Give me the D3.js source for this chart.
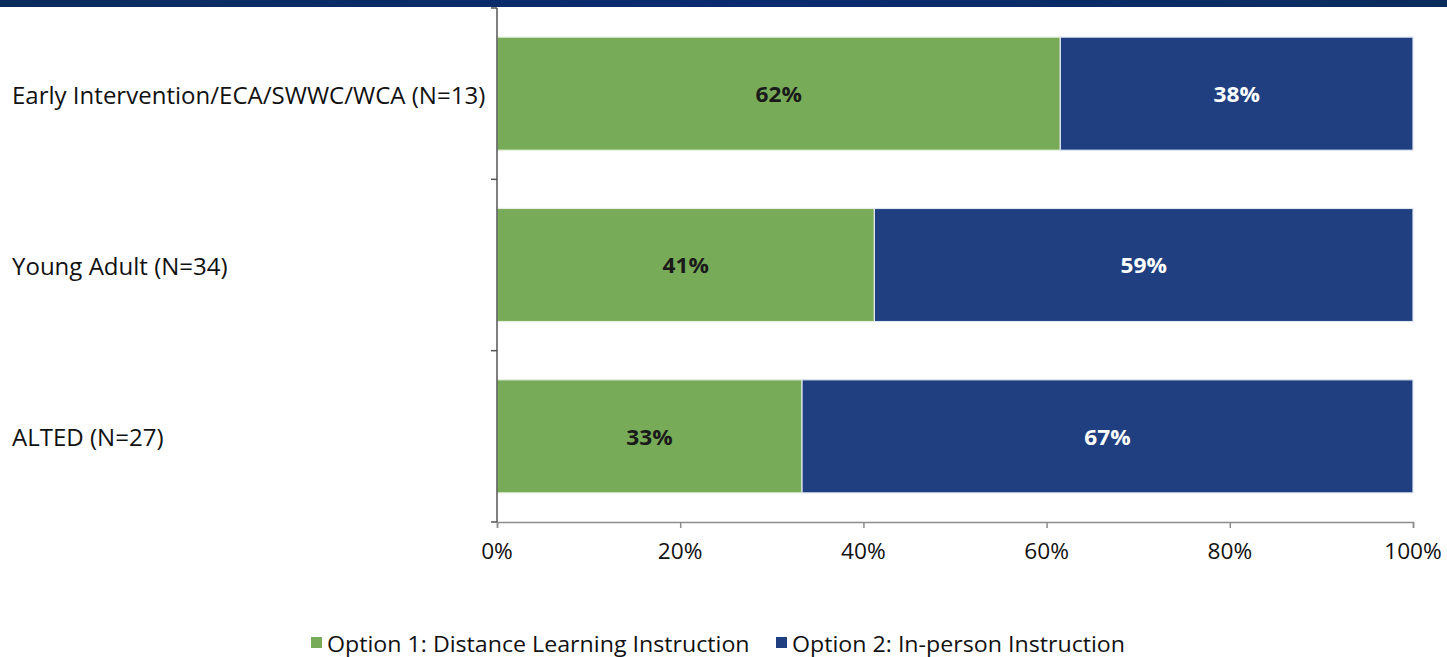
<!DOCTYPE html>
<html><head><meta charset="utf-8">
<script src="https://cdn.jsdelivr.net/npm/d3@7"></script>
<style>body{margin:0;background:#fff;}svg{display:block;}</style>
</head><body>
<svg id="c" width="1447" height="657"></svg>
<script>
const categories = ["Early Intervention/ECA/SWWC/WCA (N=13)", "Young Adult (N=34)", "ALTED (N=27)"];
const distance = [61.5, 41.2, 33.3];
const inPerson = [38.5, 58.8, 66.7];
const distanceLabels = ["62%", "41%", "33%"];
const inPersonLabels = ["38%", "59%", "67%"];
const xTicks = [0, 20, 40, 60, 80, 100];
const seriesNames = ["Option 1: Distance Learning Instruction", "Option 2: In-person Instruction"];
const colors = ["#77ab57", "#1f3f80"];

const svg = d3.select("#c");
const font = "'Open Sans', 'Noto Sans', sans-serif";

function txt(parent, x, y, s, o) {
  return parent.append("text")
    .attr("transform", `translate(${x},${y}) scale(${o.sx || 1},1)`)
    .attr("dy", "0.35em")
    .attr("text-anchor", o.anchor || "start")
    .attr("font-family", font)
    .attr("font-weight", o.bold ? "bold" : "normal")
    .attr("font-size", o.size)
    .attr("fill", o.fill || "#111")
    .text(s);
}

// top banner
const grad = svg.append("defs").append("linearGradient").attr("id","bn");
grad.append("stop").attr("offset","0%").attr("stop-color","#0c2c5e");
grad.append("stop").attr("offset","50%").attr("stop-color","#0a2a70");
grad.append("stop").attr("offset","100%").attr("stop-color","#0c2c5e");
svg.append("rect").attr("x",0).attr("y",0).attr("width",1447).attr("height",7).attr("fill","url(#bn)");

const x = d3.scaleLinear().domain([0,100]).range([497,1413]);
const y = d3.scaleBand().domain(categories).range([8,522]).paddingInner(0.34).paddingOuter(0.17);

// bars
const g = svg.append("g");
categories.forEach((c,i)=>{
  const yc = y(c) + y.bandwidth()/2;
  g.append("rect").attr("x",x(0)).attr("y",y(c)).attr("width",x(distance[i])-x(0)).attr("height",y.bandwidth())
    .attr("fill",colors[0]).attr("stroke","#e6efdf").attr("stroke-width",1.2);
  g.append("rect").attr("x",x(distance[i])).attr("y",y(c)).attr("width",x(distance[i]+inPerson[i])-x(distance[i])).attr("height",y.bandwidth())
    .attr("fill",colors[1]).attr("stroke","#dfe5f0").attr("stroke-width",1.2);
  txt(g, (x(0)+x(distance[i]))/2, yc+1, distanceLabels[i], {size:21, bold:true, anchor:"middle", sx:1.08, fill:"#1a1a1a"});
  txt(g, (x(distance[i])+x(100))/2, yc+1, inPersonLabels[i], {size:21, bold:true, anchor:"middle", sx:1.08, fill:"#ffffff"});
  txt(svg, 12, yc+2, c, {size:23, sx:1.045});
});

// x axis
const xa = svg.append("g").attr("transform","translate(0,522)")
  .call(d3.axisBottom(x).tickValues(xTicks).tickSize(6).tickPadding(12).tickFormat(d=>d+"%"));
xa.select(".domain").attr("stroke","#8c8c8c").attr("stroke-width",1.5);
xa.selectAll(".tick line").attr("stroke","#8c8c8c").attr("stroke-width",1.5);
xa.selectAll(".tick text").remove();
xTicks.forEach(t => txt(svg, x(t), 552, t + "%", {size:21, anchor:"middle", sx:1.08}));

// y axis line with boundary ticks
svg.append("line").attr("x1",497).attr("x2",497).attr("y1",8).attr("y2",522).attr("stroke","#555").attr("stroke-width",1.5);
const bounds = [8, ...categories.slice(1).map(c=>y(c)-y.step()*y.paddingInner()/2), 522];
svg.selectAll(".yt").data(bounds).enter().append("line").attr("x1",491).attr("x2",497)
  .attr("y1",d=>d).attr("y2",d=>d).attr("stroke","#555").attr("stroke-width",1.5);

// legend
const legX = [311, 776];
seriesNames.forEach((s,i)=>{
  svg.append("rect").attr("x",legX[i]).attr("y",637).attr("width",11).attr("height",11).attr("fill",colors[i]);
  txt(svg, legX[i]+16, 645, s, {size:21, sx:1.105});
});
</script>
</body></html>
